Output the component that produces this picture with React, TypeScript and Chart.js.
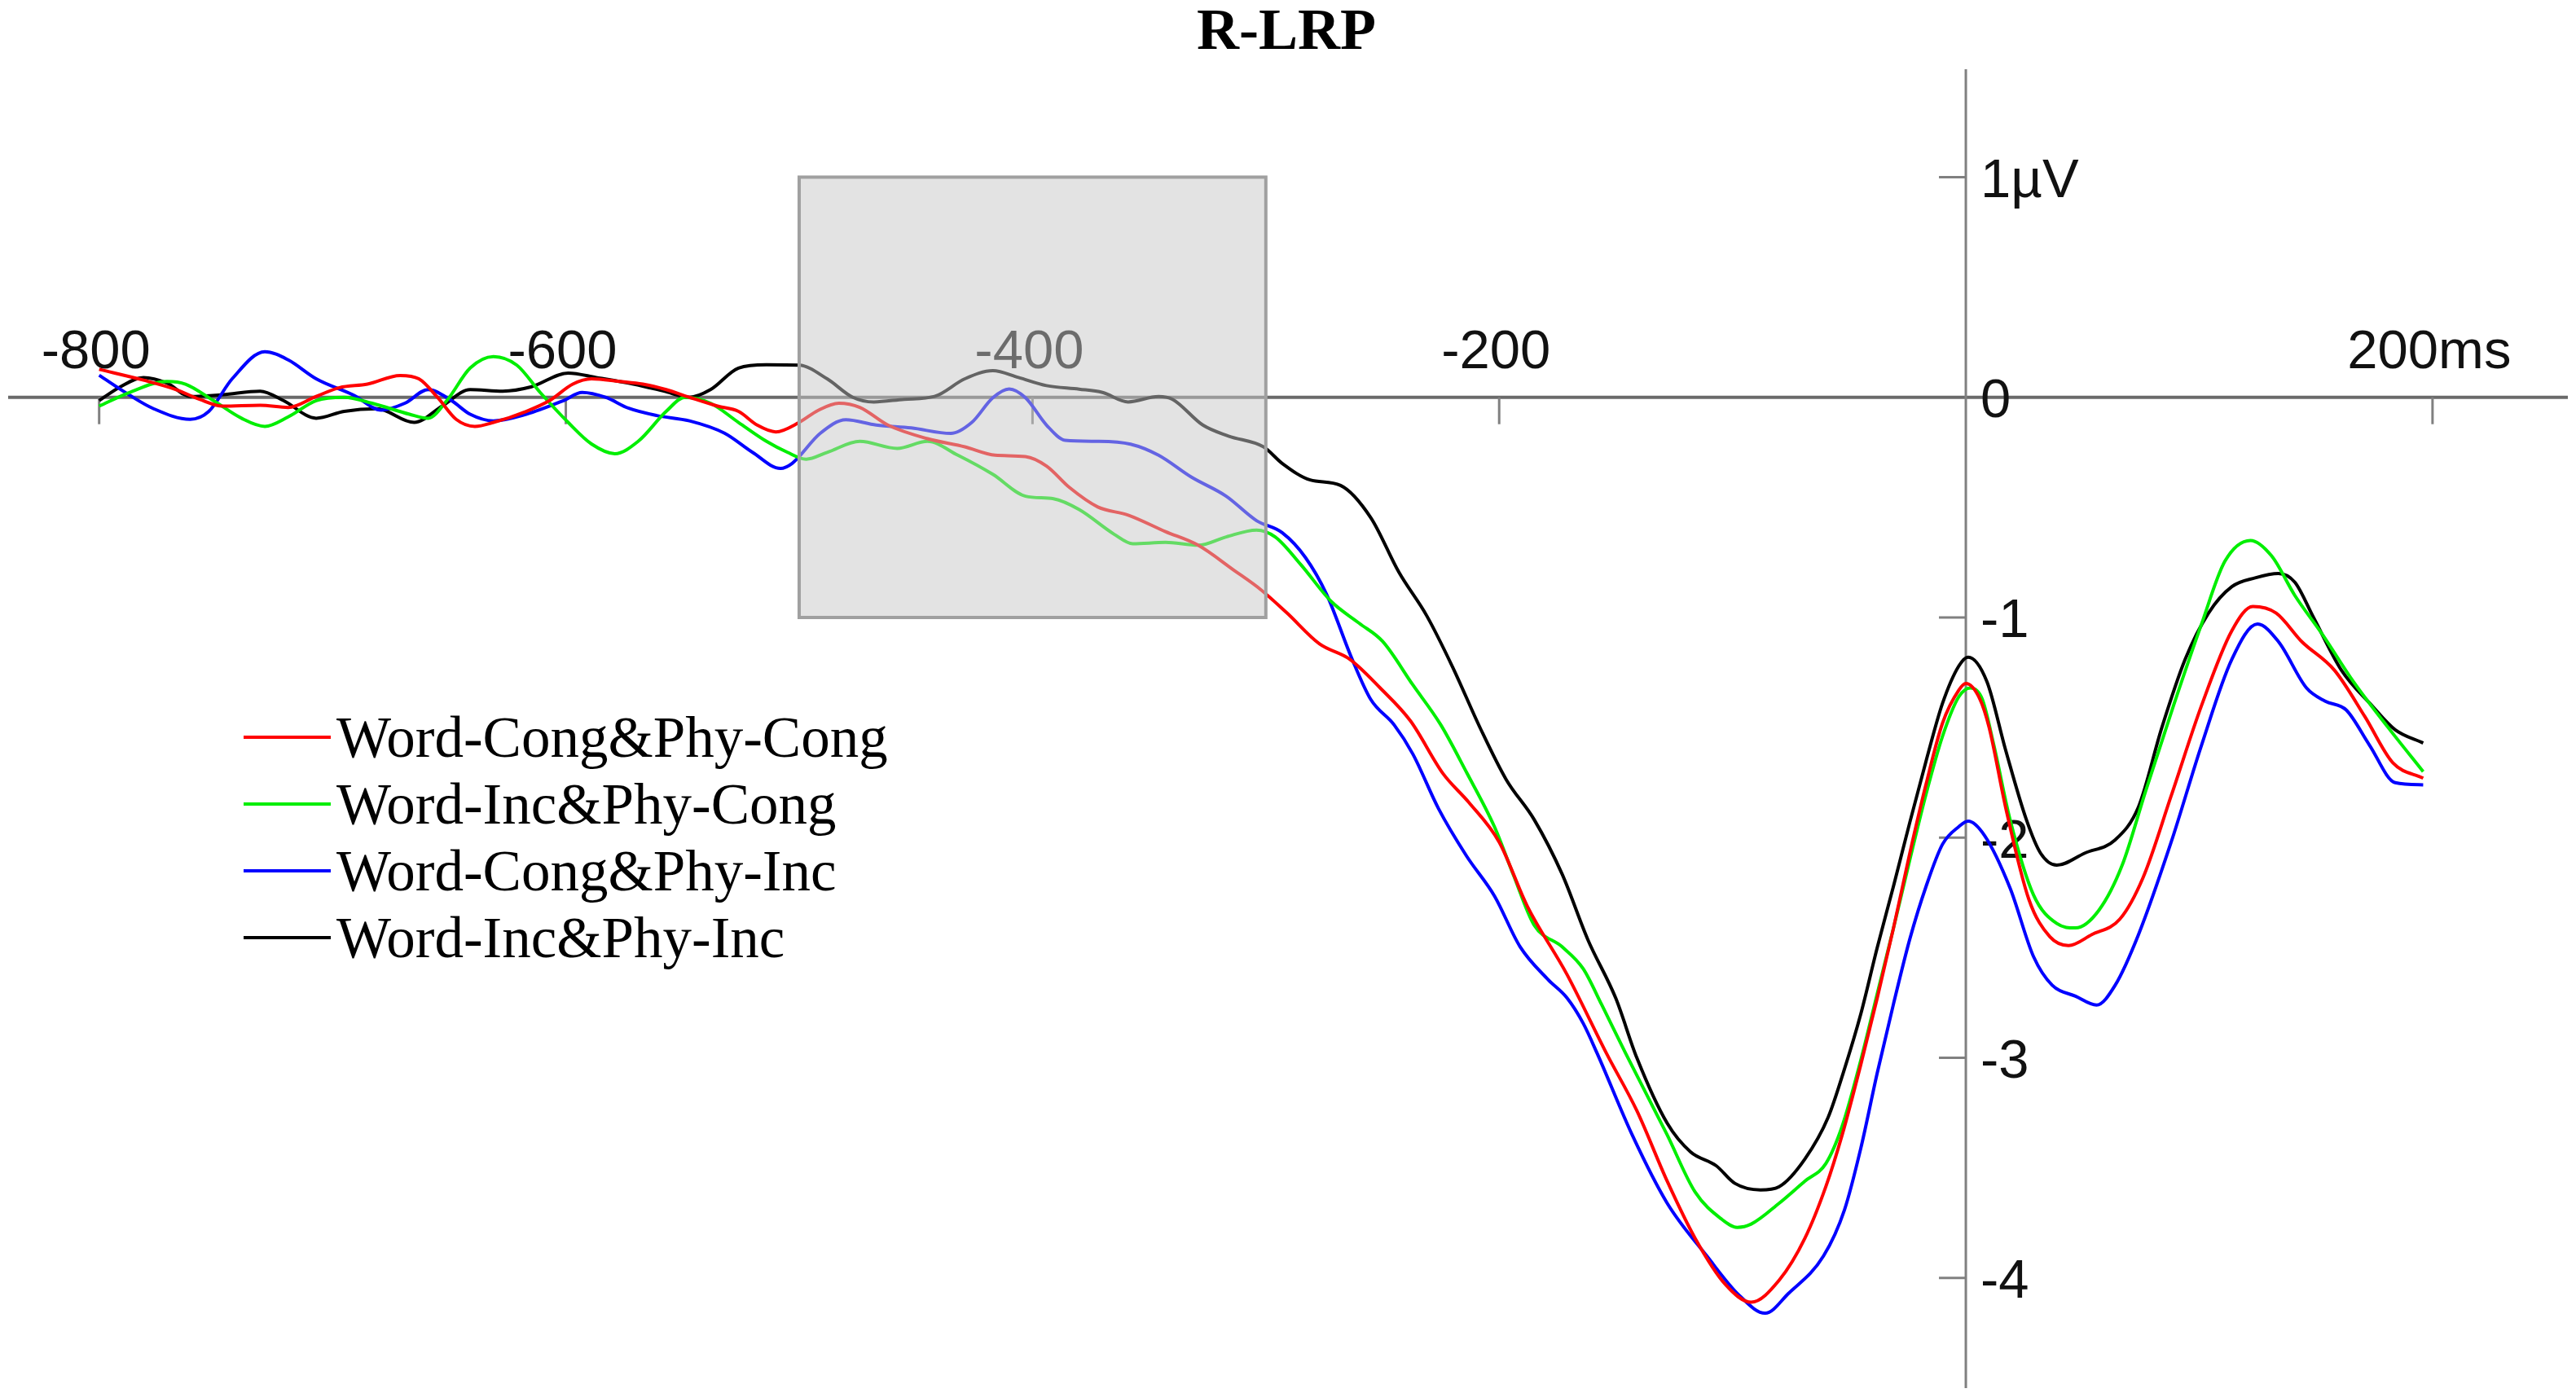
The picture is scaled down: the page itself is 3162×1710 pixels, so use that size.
import React, { useEffect, useRef } from "react";
import { Chart, registerables } from "chart.js";

Chart.register(...registerables);

// ---- Data (ms, µV) ----
const redT = [-800,-781,-767,-757,-747,-731,-719,-707,-697,-685,-671,-663,-655,-647,-639,-631,-617,-607,-597,-589,-577,-567,-557,-547,-535,-526,-518,-510,-500,-492,-483,-474,-462,-445,-429,-416,-403,-394,-384,-372,-359,-343,-329,-314,-302,-291,-277,-264,-251,-238,-224,-213,-200,-188,-171,-154,-141,-128,-116,-103,-92,-80,-69,-60,-53,-45,-38,-31,-24,-17,-10,-3,0,6,10,17,27,36,44,54,66,76,88,101,114,123,133,144,158,171,183,196];
const redV = [0.127,0.078,0.035,-0.009,-0.04,-0.036,-0.046,0.004,0.044,0.06,0.099,0.084,0,-0.10,-0.132,-0.114,-0.064,-0.015,0.06,0.084,0.072,0.06,0.035,0,-0.04,-0.064,-0.126,-0.157,-0.114,-0.06,-0.027,-0.046,-0.126,-0.188,-0.225,-0.263,-0.269,-0.312,-0.411,-0.498,-0.535,-0.61,-0.672,-0.783,-0.875,-0.979,-1.12,-1.19,-1.32,-1.47,-1.71,-1.84,-2.02,-2.31,-2.62,-2.98,-3.24,-3.56,-3.82,-4.03,-4.11,-4.01,-3.82,-3.585,-3.35,-3.03,-2.73,-2.41,-2.07,-1.755,-1.48,-1.33,-1.30,-1.37,-1.50,-1.86,-2.28,-2.45,-2.49,-2.44,-2.37,-2.18,-1.81,-1.40,-1.06,-0.95,-0.98,-1.11,-1.24,-1.45,-1.66,-1.73];

const greenT = [-800,-787,-771,-763,-751,-739,-729,-719,-707,-695,-683,-667,-659,-651,-641,-631,-621,-611,-599,-589,-579,-569,-557,-549,-538,-526,-514,-505,-497,-488,-474,-458,-445,-432,-417,-403,-391,-380,-365,-357,-343,-329,-317,-304,-296,-285,-272,-260,-250,-237,-225,-214,-202,-194,-185,-173,-164,-156,-146,-128,-116,-105,-98,-92,-80,-69,-60,-53,-45,-38,-31,-24,-17,-10,-3,2,7,12,19,29,39,47,57,67,77,89,101,111,122,131,141,153,166,181,196];
const greenV = [-0.04,0.022,0.072,0.06,-0.015,-0.095,-0.132,-0.089,-0.015,0,-0.027,-0.077,-0.095,-0.015,0.133,0.185,0.146,0.022,-0.114,-0.212,-0.256,-0.2,-0.064,0,-0.027,-0.114,-0.2,-0.25,-0.281,-0.25,-0.2,-0.232,-0.2,-0.263,-0.35,-0.449,-0.461,-0.51,-0.622,-0.665,-0.659,-0.672,-0.634,-0.603,-0.634,-0.76,-0.927,-1.026,-1.108,-1.306,-1.488,-1.703,-1.951,-2.166,-2.397,-2.496,-2.595,-2.76,-2.975,-3.35,-3.61,-3.73,-3.77,-3.755,-3.66,-3.56,-3.48,-3.31,-3.01,-2.71,-2.41,-2.10,-1.80,-1.54,-1.36,-1.32,-1.37,-1.58,-1.92,-2.26,-2.39,-2.41,-2.33,-2.125,-1.79,-1.40,-1.03,-0.745,-0.65,-0.72,-0.90,-1.08,-1.29,-1.50,-1.70];

const blueT = [-800,-787,-777,-761,-753,-743,-729,-719,-707,-691,-679,-669,-659,-649,-641,-631,-617,-601,-593,-583,-573,-561,-547,-532,-520,-508,-503,-491,-480,-467,-452,-435,-426,-417,-410,-403,-394,-386,-372,-358,-346,-332,-317,-304,-293,-283,-274,-263,-255,-245,-237,-226,-214,-202,-191,-179,-171,-164,-158,-143,-128,-111,-97,-86,-76,-61,-52,-45,-38,-31,-24,-17,-10,-3,1,8,19,29,37,47,56,64,74,88,101,114,125,134,146,154,163,173,184,196];
const blueV = [0.10,0.01,-0.05,-0.10,-0.064,0.084,0.207,0.17,0.084,0.01,-0.058,-0.027,0.035,-0.015,-0.077,-0.107,-0.077,-0.015,0.022,0,-0.05,-0.083,-0.107,-0.163,-0.25,-0.323,-0.30,-0.164,-0.102,-0.126,-0.139,-0.164,-0.114,-0.002,0.038,-0.002,-0.126,-0.195,-0.2,-0.213,-0.263,-0.362,-0.449,-0.56,-0.615,-0.728,-0.894,-1.19,-1.373,-1.488,-1.62,-1.868,-2.083,-2.265,-2.496,-2.645,-2.727,-2.843,-2.98,-3.35,-3.66,-3.90,-4.08,-4.16,-4.07,-3.90,-3.69,-3.41,-3.07,-2.755,-2.46,-2.22,-2.03,-1.95,-1.925,-1.99,-2.23,-2.54,-2.67,-2.72,-2.76,-2.67,-2.44,-2.02,-1.58,-1.19,-1.03,-1.11,-1.32,-1.38,-1.42,-1.58,-1.75,-1.76];

const blackT = [-800,-791,-781,-771,-761,-747,-731,-721,-707,-695,-681,-665,-653,-641,-627,-615,-599,-587,-571,-558,-547,-538,-526,-514,-500,-488,-477,-468,-455,-442,-429,-417,-406,-394,-380,-370,-359,-346,-340,-327,-316,-301,-293,-281,-268,-255,-243,-231,-220,-208,-197,-185,-173,-162,-150,-141,-128,-118,-107,-99,-88,-80,-69,-59,-52,-45,-38,-31,-24,-17,-10,-3,1,9,17,26,32,39,51,64,74,84,94,104,114,124,134,141,149,161,174,184,196];
const blackV = [-0.015,0.047,0.09,0.065,0.004,0.012,0.028,-0.015,-0.095,-0.064,-0.052,-0.114,-0.04,0.035,0.028,0.047,0.11,0.09,0.06,0.028,0,0.035,0.133,0.148,0.146,0.084,0,-0.021,-0.009,0.004,0.084,0.121,0.09,0.053,0.037,0.022,-0.021,0.004,-0.009,-0.126,-0.176,-0.225,-0.30,-0.375,-0.40,-0.547,-0.794,-0.993,-1.224,-1.505,-1.736,-1.918,-2.166,-2.463,-2.73,-3.0,-3.297,-3.427,-3.49,-3.57,-3.60,-3.585,-3.46,-3.27,-3.05,-2.80,-2.50,-2.22,-1.93,-1.65,-1.39,-1.22,-1.18,-1.29,-1.60,-1.92,-2.07,-2.125,-2.07,-2.01,-1.86,-1.5,-1.19,-0.98,-0.86,-0.82,-0.80,-0.84,-1.0,-1.24,-1.40,-1.51,-1.57];

const seriesNames = ["Word-Cong&Phy-Cong", "Word-Inc&Phy-Cong", "Word-Cong&Phy-Inc", "Word-Inc&Phy-Inc"];
const seriesColors = ["#ff0000", "#00ee00", "#0000ff", "#000000"];

const xTicks = [-800, -600, -400, -200, 200];
const xTickLabels = ["-800", "-600", "-400", "-200", "200ms"];
const yTicks = [1, 0, -1, -2, -3, -4];
const yTickLabels = ["1µV", "0", "-1", "-2", "-3", "-4"];

const highlightX = [-500, -300];
const highlightY = [-1, 1];

const titleText = "R-LRP";

const toPoints = (t: number[], v: number[]) => t.map((x, i) => ({ x, y: v[i] }));

const W = 3162;
const H = 1710;

const overlayPlugin = {
  id: "erpOverlay",
  beforeDatasetsDraw(chart: any) {
    const ctx = chart.ctx;
    const xs = chart.scales.x;
    const ys = chart.scales.y;
    const area = chart.chartArea;
    const x0 = xs.getPixelForValue(0);
    const y0 = ys.getPixelForValue(0);
    ctx.save();
    // x axis
    ctx.strokeStyle = "#6a6a6a";
    ctx.lineWidth = 4;
    ctx.beginPath();
    ctx.moveTo(area.left, y0);
    ctx.lineTo(area.right, y0);
    ctx.stroke();
    // y axis
    ctx.strokeStyle = "#808080";
    ctx.lineWidth = 3;
    ctx.beginPath();
    ctx.moveTo(x0, area.top);
    ctx.lineTo(x0, area.bottom);
    ctx.stroke();
    // ticks
    ctx.lineWidth = 3;
    ctx.strokeStyle = "#808080";
    xTicks.forEach((t) => {
      const px = xs.getPixelForValue(t);
      ctx.beginPath();
      ctx.moveTo(px, y0);
      ctx.lineTo(px, y0 + 33);
      ctx.stroke();
    });
    yTicks.forEach((t) => {
      if (t === 0) return;
      const py = ys.getPixelForValue(t);
      ctx.beginPath();
      ctx.moveTo(x0 - 33, py);
      ctx.lineTo(x0, py);
      ctx.stroke();
    });
    // labels
    ctx.fillStyle = "#111111";
    ctx.font = "67px 'Liberation Sans', Arial, sans-serif";
    ctx.textAlign = "center";
    ctx.textBaseline = "alphabetic";
    xTicks.forEach((t, i) => {
      const px = xs.getPixelForValue(t);
      ctx.fillText(xTickLabels[i], px - 4, y0 - 36);
    });
    ctx.textAlign = "left";
    ctx.textBaseline = "middle";
    yTicks.forEach((t, i) => {
      const py = ys.getPixelForValue(t);
      ctx.fillText(yTickLabels[i], x0 + 18, py + 6);
    });
    ctx.restore();
  },
  afterDatasetsDraw(chart: any) {
    const ctx = chart.ctx;
    const xs = chart.scales.x;
    const ys = chart.scales.y;
    ctx.save();
    // highlight box
    const bx1 = xs.getPixelForValue(highlightX[0]);
    const bx2 = xs.getPixelForValue(highlightX[1]);
    const by1 = ys.getPixelForValue(highlightY[1]);
    const by2 = ys.getPixelForValue(highlightY[0]);
    ctx.fillStyle = "rgba(200,200,200,0.5)";
    ctx.fillRect(bx1, by1, bx2 - bx1, by2 - by1);
    ctx.strokeStyle = "#a0a0a0";
    ctx.lineWidth = 4;
    ctx.strokeRect(bx1, by1, bx2 - bx1, by2 - by1);
    // legend
    ctx.font = "71px 'Liberation Serif', 'Times New Roman', serif";
    ctx.textAlign = "left";
    ctx.textBaseline = "alphabetic";
    seriesNames.forEach((name, i) => {
      const ly = 905 + i * 82;
      ctx.strokeStyle = seriesColors[i];
      ctx.lineWidth = 4;
      ctx.beginPath();
      ctx.moveTo(299, ly);
      ctx.lineTo(406, ly);
      ctx.stroke();
      ctx.fillStyle = "#000000";
      ctx.fillText(name, 413, ly + 24);
    });
    // title
    ctx.font = "bold 72px 'Liberation Serif', 'Times New Roman', serif";
    ctx.textAlign = "center";
    ctx.fillText(titleText, 1579, 60);
    ctx.restore();
  },
};

export default function App() {
  const ref = useRef<HTMLCanvasElement | null>(null);
  useEffect(() => {
    if (!ref.current) return;
    const series = [
      toPoints(redT, redV),
      toPoints(greenT, greenV),
      toPoints(blueT, blueV),
      toPoints(blackT, blackV),
    ];
    const chart = new Chart(ref.current, {
      type: "line",
      data: {
        datasets: series.map((pts, i) => ({
          label: seriesNames[i],
          data: pts,
          borderColor: seriesColors[i],
          borderWidth: 4,
          pointRadius: 0,
          fill: false,
          cubicInterpolationMode: "monotone" as const,
        })),
      },
      options: {
        animation: false,
        responsive: false,
        devicePixelRatio: 1,
        layout: { padding: { left: 10, right: 10, top: 85, bottom: 6 } },
        scales: {
          x: { type: "linear", min: -839, max: 258, display: false },
          y: { type: "linear", min: -4.5, max: 1.49, display: false },
        },
        plugins: {
          legend: { display: false },
          title: { display: false },
          tooltip: { enabled: false },
        },
        events: [],
      },
      plugins: [overlayPlugin],
    });
    return () => chart.destroy();
  }, []);
  return (
    <div style={{ position: "fixed", left: 0, top: 0, width: W, height: H, background: "#ffffff" }}>
      <canvas ref={ref} width={W} height={H} style={{ width: W, height: H, display: "block" }} />
    </div>
  );
}
